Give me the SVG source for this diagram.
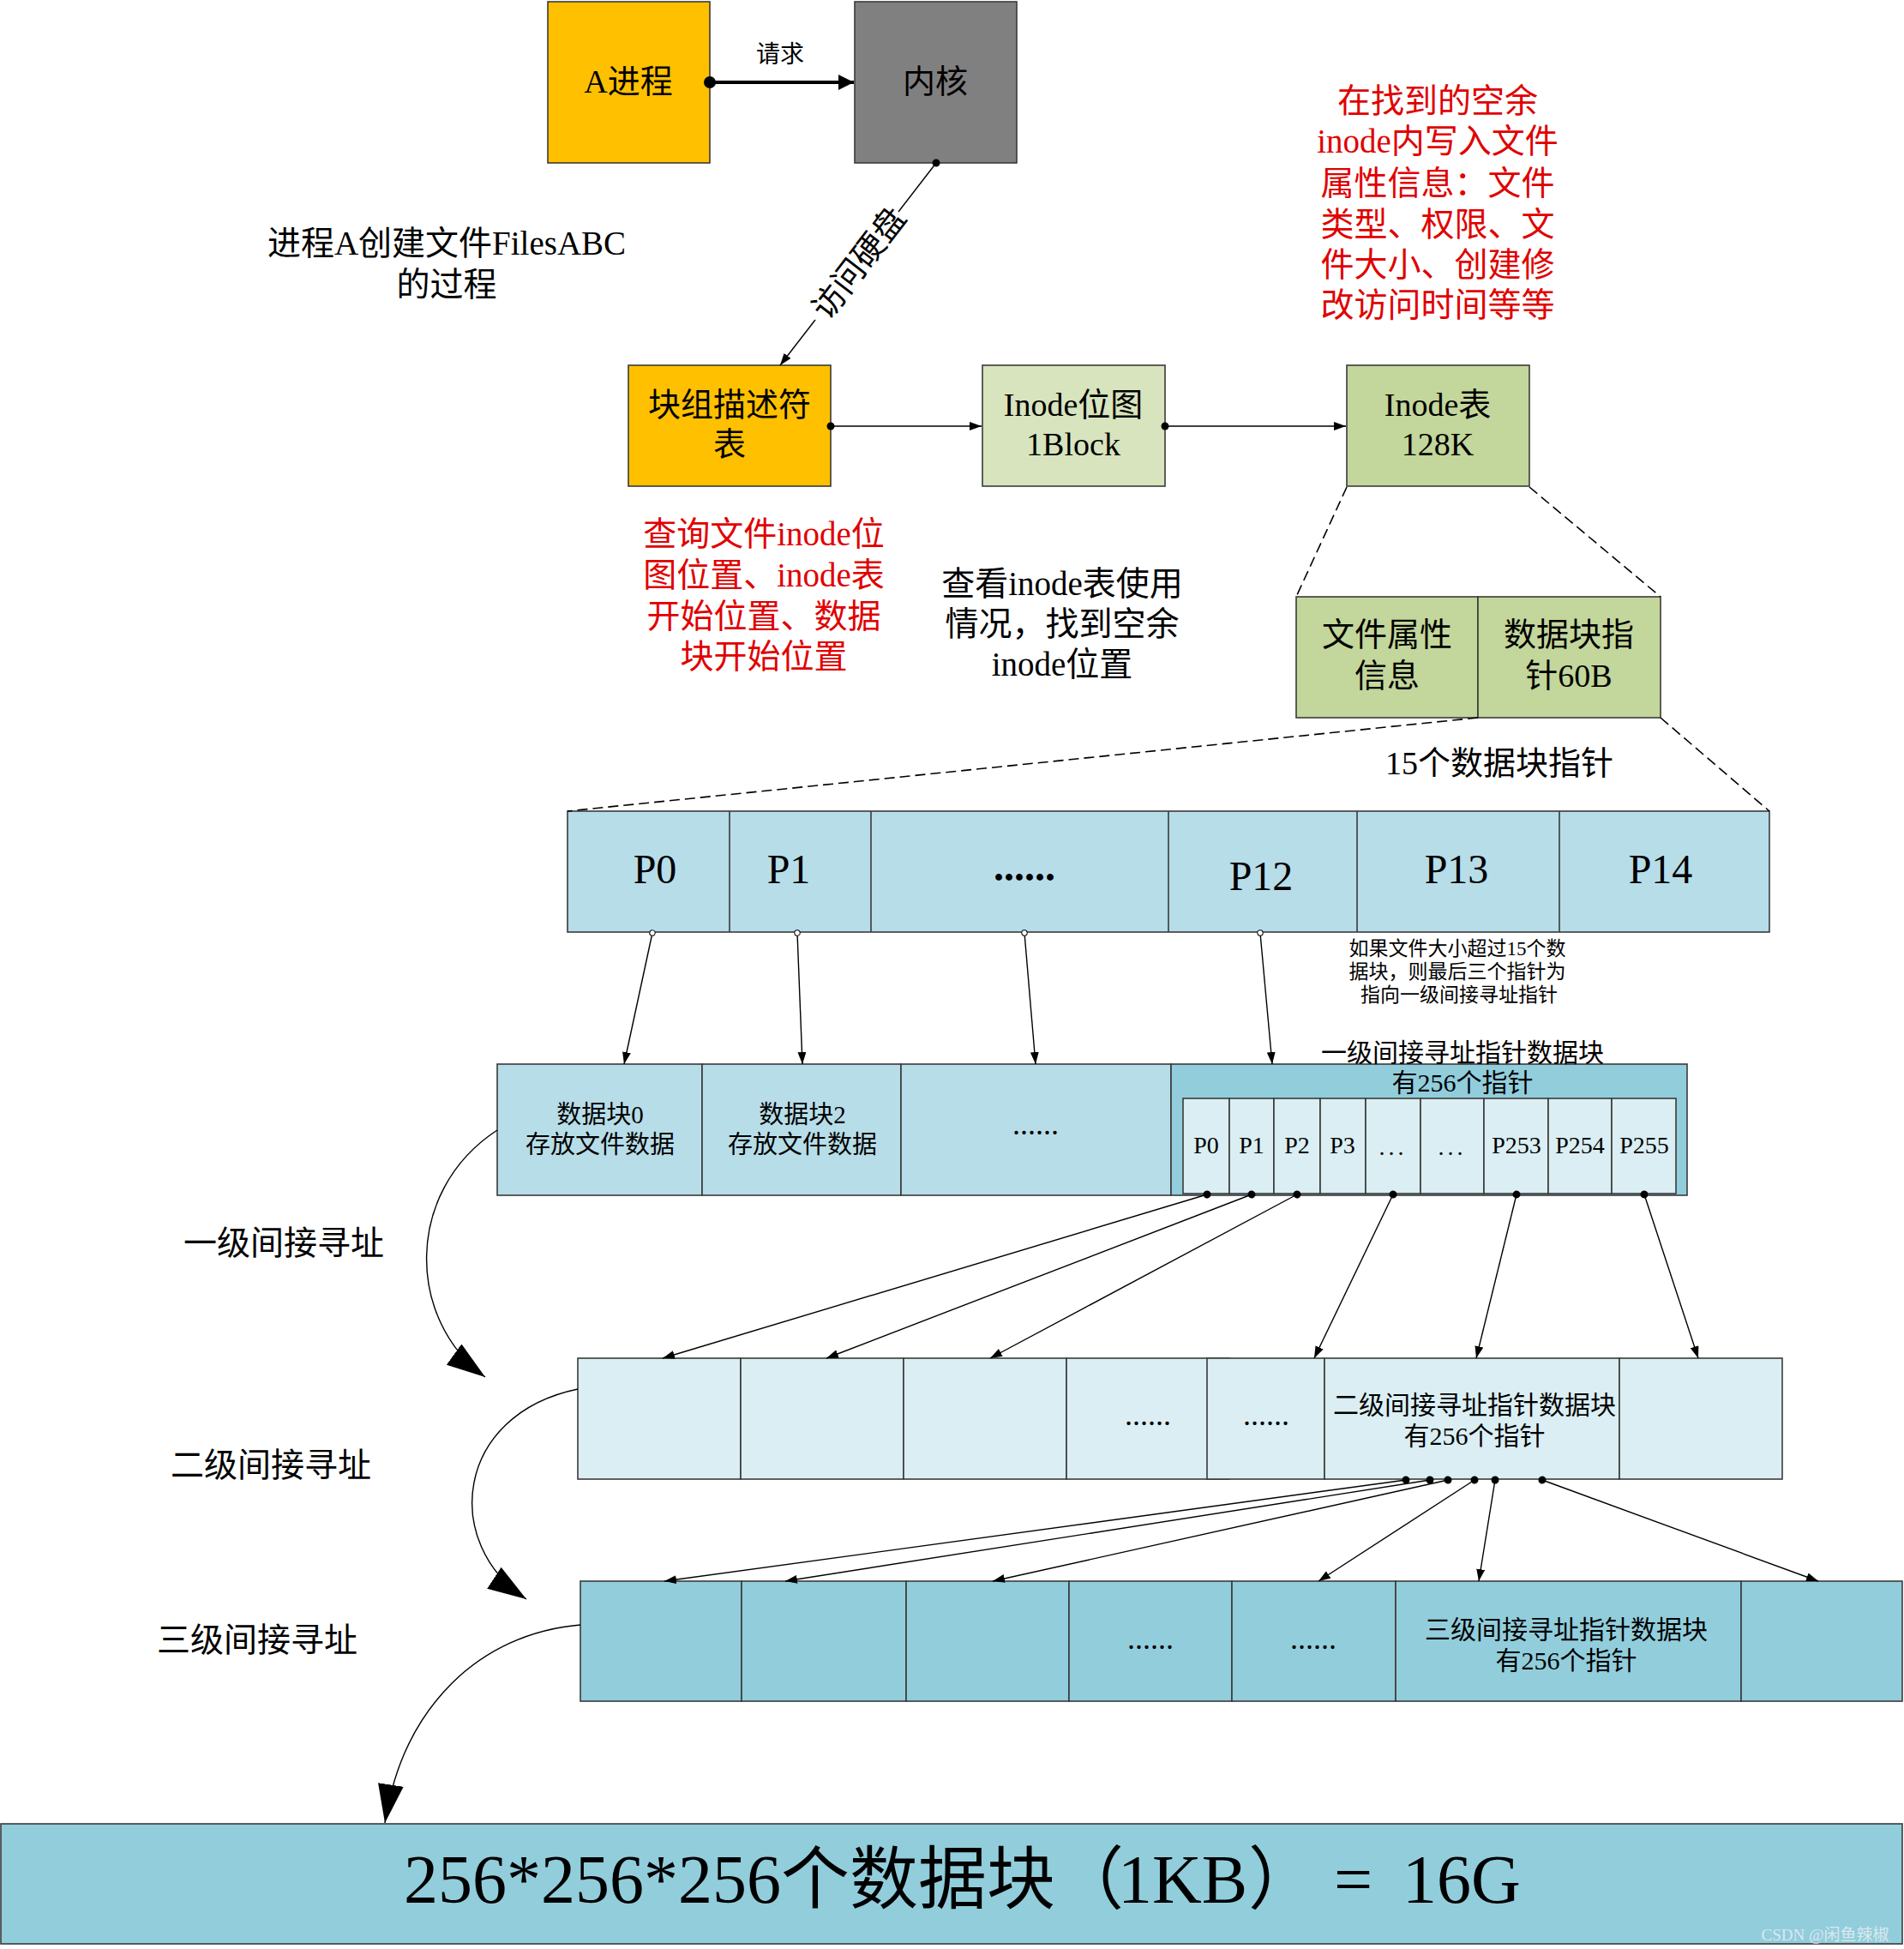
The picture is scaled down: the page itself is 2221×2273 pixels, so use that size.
<svg xmlns="http://www.w3.org/2000/svg" width="2221" height="2273" viewBox="0 0 2221 2273">
<style>
.t{font-family:"Liberation Serif","Noto Sans CJK SC",serif;fill:#000;text-anchor:middle;dominant-baseline:central}
.red{fill:#E00000}
.b{stroke:#3a3a3a;stroke-width:1.6}
.c{fill:none;stroke:#000;stroke-width:1.4}
.d{fill:none;stroke:#000;stroke-width:1.6;stroke-dasharray:12 6}
.y{fill:#FFC000}.g{fill:#808080}.lg{fill:#D7E4BD}.mg{fill:#C3D69B}
.b1{fill:#B7DDE8}.b2{fill:#92CDDC}.b3{fill:#DAEEF3}
</style>
<defs>
<marker id="arrL" viewBox="0 0 18 18" markerWidth="18" markerHeight="18" refX="18" refY="9" orient="auto" markerUnits="userSpaceOnUse"><path d="M0,0 L18,9 L0,18 z" fill="#000"/></marker>
<marker id="dotL" viewBox="-8 -8 16 16" markerWidth="16" markerHeight="16" refX="0" refY="0" orient="auto" markerUnits="userSpaceOnUse"><circle r="7" fill="#000"/></marker>
<marker id="arrS" viewBox="0 0 14 10" markerWidth="14" markerHeight="10" refX="14" refY="5" orient="auto" markerUnits="userSpaceOnUse"><path d="M0,0 L14,5 L0,10 z" fill="#000"/></marker>
<marker id="dotS" viewBox="-5 -5 10 10" markerWidth="10" markerHeight="10" refX="0" refY="0" orient="auto" markerUnits="userSpaceOnUse"><circle r="4.5" fill="#000"/></marker>
<marker id="ring" viewBox="-5 -5 10 10" markerWidth="10" markerHeight="10" refX="0" refY="0" orient="auto" markerUnits="userSpaceOnUse"><circle r="3.2" fill="#fff" stroke="#000" stroke-width="1"/></marker>
<marker id="arrB" viewBox="0 0 45 30" markerWidth="45" markerHeight="30" refX="45" refY="15" orient="auto" markerUnits="userSpaceOnUse"><path d="M0,0 L45,15 L0,30 z" fill="#000"/></marker>
</defs>
<rect width="2221" height="2273" fill="#fff"/>

<g id="node-a-process"><rect class="b y" x="639" y="2" width="189" height="188"/><text class="t" x="733" y="95" font-size="38">A进程</text></g>
<g id="node-kernel"><rect class="b g" x="997" y="2" width="189" height="188"/><text class="t" x="1091" y="95" font-size="38">内核</text></g>
<g id="title"><text class="t" x="521" y="283" font-size="39">进程A创建文件FilesABC</text><text class="t" x="521" y="331" font-size="39">的过程</text></g>

<g id="node-bgdt"><rect class="b y" x="733" y="426" width="236" height="141"/><text class="t" x="851" y="472" font-size="38">块组描述符</text><text class="t" x="851" y="518" font-size="38">表</text></g>
<g id="node-inode-bitmap"><rect class="b lg" x="1146" y="426" width="213" height="141"/><text class="t" x="1252" y="472" font-size="38">Inode位图</text><text class="t" x="1252" y="518" font-size="38">1Block</text></g>
<g id="node-inode-table"><rect class="b mg" x="1571" y="426" width="213" height="141"/><text class="t" x="1677" y="472" font-size="38">Inode表</text><text class="t" x="1677" y="518" font-size="38">128K</text></g>

<g id="note-write"><text class="t red" x="1677" y="117" font-size="39">在找到的空余</text><text class="t red" x="1677" y="164" font-size="39">inode内写入文件</text><text class="t red" x="1677" y="213" font-size="39">属性信息：文件</text><text class="t red" x="1677" y="261" font-size="39">类型、权限、文</text><text class="t red" x="1677" y="308" font-size="39">件大小、创建修</text><text class="t red" x="1677" y="355" font-size="39">改访问时间等等</text></g>
<g id="note-query"><text class="t red" x="891" y="622" font-size="39">查询文件inode位</text><text class="t red" x="891" y="670" font-size="39">图位置、inode表</text><text class="t red" x="891" y="718" font-size="39">开始位置、数据</text><text class="t red" x="891" y="765" font-size="39">块开始位置</text></g>
<g id="note-check"><text class="t" x="1239" y="680" font-size="39">查看inode表使用</text><text class="t" x="1239" y="727" font-size="39">情况，找到空余</text><text class="t" x="1239" y="774" font-size="39">inode位置</text></g>

<g id="node-inode"><rect class="b mg" x="1512" y="696" width="212" height="141"/><rect class="b mg" x="1724" y="696" width="213" height="141"/><text class="t" x="1618" y="740" font-size="38">文件属性</text><text class="t" x="1618" y="788" font-size="38">信息</text><text class="t" x="1830" y="740" font-size="38">数据块指</text><text class="t" x="1830" y="788" font-size="38">针60B</text></g>
<g id="label-15"><text class="t" x="1749" y="890" font-size="38">15个数据块指针</text></g>

<g id="node-pointers"><rect class="b b1" x="662" y="946" width="1402" height="141"/>
<line class="b" x1="851" y1="946" x2="851" y2="1087"/><line class="b" x1="1016" y1="946" x2="1016" y2="1087"/><line class="b" x1="1363" y1="946" x2="1363" y2="1087"/><line class="b" x1="1583" y1="946" x2="1583" y2="1087"/><line class="b" x1="1819" y1="946" x2="1819" y2="1087"/>
<text class="t" x="764" y="1013" font-size="48">P0</text><text class="t" x="920" y="1013" font-size="48">P1</text><text class="t" x="1195" y="1010" font-size="48" font-weight="bold">......</text><text class="t" x="1471" y="1021" font-size="48">P12</text><text class="t" x="1699" y="1013" font-size="48">P13</text><text class="t" x="1937" y="1013" font-size="48">P14</text></g>
<g id="note-indirect"><text class="t" x="1700" y="1106" font-size="23">如果文件大小超过15个数</text><text class="t" x="1700" y="1133" font-size="23">据块，则最后三个指针为</text><text class="t" x="1702" y="1160" font-size="23">指向一级间接寻址指针</text></g>

<g id="node-data-blocks"><rect class="b b1" x="580" y="1241" width="239" height="153"/><rect class="b b1" x="819" y="1241" width="232" height="153"/><rect class="b b1" x="1051" y="1241" width="315" height="153"/>
<text class="t" x="700" y="1300" font-size="29">数据块0</text><text class="t" x="700" y="1335" font-size="29">存放文件数据</text><text class="t" x="936" y="1300" font-size="29">数据块2</text><text class="t" x="936" y="1335" font-size="29">存放文件数据</text><text class="t" x="1208" y="1311" font-size="36">......</text></g>
<g id="node-l1-block"><rect class="b b2" x="1366" y="1241" width="602" height="153"/>
<text class="t" x="1706" y="1227" font-size="30">一级间接寻址指针数据块</text><text class="t" x="1706" y="1262" font-size="30">有256个指针</text>
<g class="b b3"><rect x="1380" y="1281" width="54" height="111"/><rect x="1434" y="1281" width="52" height="111"/><rect x="1486" y="1281" width="54" height="111"/><rect x="1540" y="1281" width="53" height="111"/><rect x="1593" y="1281" width="64" height="111"/><rect x="1657" y="1281" width="74" height="111"/><rect x="1731" y="1281" width="75" height="111"/><rect x="1806" y="1281" width="74" height="111"/><rect x="1880" y="1281" width="75" height="111"/></g>
<text class="t" x="1407" y="1335" font-size="28">P0</text><text class="t" x="1460" y="1335" font-size="28">P1</text><text class="t" x="1513" y="1335" font-size="28">P2</text><text class="t" x="1566" y="1335" font-size="28">P3</text><text class="t" x="1625" y="1337" font-size="28" letter-spacing="4">...</text><text class="t" x="1694" y="1337" font-size="28" letter-spacing="4">...</text><text class="t" x="1769" y="1335" font-size="28">P253</text><text class="t" x="1843" y="1335" font-size="28">P254</text><text class="t" x="1918" y="1335" font-size="28">P255</text></g>

<g id="label-levels"><text class="t" x="331" y="1449" font-size="39">一级间接寻址</text><text class="t" x="316" y="1708" font-size="39">二级间接寻址</text><text class="t" x="300" y="1912" font-size="39">三级间接寻址</text></g>

<g id="node-l2-row"><g class="b b3"><rect x="674" y="1584" width="190" height="141"/><rect x="864" y="1584" width="190" height="141"/><rect x="1054" y="1584" width="190" height="141"/><rect x="1244" y="1584" width="190" height="141"/><rect x="1408" y="1584" width="137" height="141"/><rect x="1545" y="1584" width="344" height="141"/><rect x="1889" y="1584" width="190" height="141"/></g>
<text class="t" x="1339" y="1650" font-size="36">......</text><text class="t" x="1477" y="1650" font-size="36">......</text><text class="t" x="1720" y="1638" font-size="30">二级间接寻址指针数据块</text><text class="t" x="1720" y="1674" font-size="30">有256个指针</text></g>

<g id="node-l3-row"><g class="b b2"><rect x="677" y="1844" width="188" height="140"/><rect x="865" y="1844" width="192" height="140"/><rect x="1057" y="1844" width="190" height="140"/><rect x="1247" y="1844" width="190" height="140"/><rect x="1437" y="1844" width="191" height="140"/><rect x="1628" y="1844" width="403" height="140"/><rect x="2031" y="1844" width="188" height="140"/></g>
<text class="t" x="1342" y="1911" font-size="36">......</text><text class="t" x="1532" y="1911" font-size="36">......</text><text class="t" x="1827" y="1900" font-size="30">三级间接寻址指针数据块</text><text class="t" x="1827" y="1936" font-size="30">有256个指针</text></g>

<g id="node-total"><rect class="b b2" x="1" y="2127" width="2218" height="140"/>
<text class="t" x="471" y="2192" font-size="80" style="text-anchor:start">256*256*256个数据块（<tspan x="1304">1KB</tspan><tspan x="1456">）</tspan> <tspan x="1556">=</tspan> <tspan x="1636">16G</tspan></text>
<text class="t" x="2129" y="2256" font-size="19" style="fill:#dbe8ee">CSDN @闲鱼辣椒</text></g>

<g id="connectors">
<line x1="828" y1="96" x2="996" y2="96" stroke="#000" stroke-width="4" marker-start="url(#dotL)" marker-end="url(#arrL)"/>
<text class="t" x="910" y="63" font-size="28">请求</text>
<line class="c" x1="1092" y1="190" x2="1048" y2="247" marker-start="url(#dotS)"/>
<line class="c" x1="951" y1="373" x2="910" y2="426" marker-end="url(#arrS)"/>
<text class="t" x="1002" y="307" font-size="38" transform="rotate(-52.4 1002 307)">访问硬盘</text>
<line class="c" x1="969" y1="497" x2="1145" y2="497" marker-start="url(#dotS)" marker-end="url(#arrS)"/>
<line class="c" x1="1359" y1="497" x2="1570" y2="497" marker-start="url(#dotS)" marker-end="url(#arrS)"/>
<line class="d" x1="1571" y1="568" x2="1512" y2="696"/>
<line class="d" x1="1784" y1="568" x2="1937" y2="696"/>
<line class="d" x1="1724" y1="837" x2="662" y2="946"/>
<line class="d" x1="1937" y1="837" x2="2064" y2="946"/>
<line class="c" x1="761" y1="1088" x2="728" y2="1241" marker-start="url(#ring)" marker-end="url(#arrS)"/>
<line class="c" x1="930" y1="1088" x2="936" y2="1241" marker-start="url(#ring)" marker-end="url(#arrS)"/>
<line class="c" x1="1195" y1="1088" x2="1208" y2="1241" marker-start="url(#ring)" marker-end="url(#arrS)"/>
<line class="c" x1="1470" y1="1088" x2="1484" y2="1241" marker-start="url(#ring)" marker-end="url(#arrS)"/>
<line class="c" x1="1408" y1="1393" x2="773" y2="1584" marker-start="url(#dotS)" marker-end="url(#arrS)"/>
<line class="c" x1="1460" y1="1393" x2="964" y2="1584" marker-start="url(#dotS)" marker-end="url(#arrS)"/>
<line class="c" x1="1513" y1="1393" x2="1155" y2="1584" marker-start="url(#dotS)" marker-end="url(#arrS)"/>
<line class="c" x1="1625" y1="1393" x2="1533" y2="1584" marker-start="url(#dotS)" marker-end="url(#arrS)"/>
<line class="c" x1="1769" y1="1393" x2="1722" y2="1584" marker-start="url(#dotS)" marker-end="url(#arrS)"/>
<line class="c" x1="1918" y1="1393" x2="1981" y2="1584" marker-start="url(#dotS)" marker-end="url(#arrS)"/>
<line class="c" x1="1640" y1="1726" x2="775" y2="1844" marker-start="url(#dotS)" marker-end="url(#arrS)"/>
<line class="c" x1="1668" y1="1726" x2="916" y2="1844" marker-start="url(#dotS)" marker-end="url(#arrS)"/>
<line class="c" x1="1689" y1="1726" x2="1158" y2="1844" marker-start="url(#dotS)" marker-end="url(#arrS)"/>
<line class="c" x1="1720" y1="1726" x2="1538" y2="1844" marker-start="url(#dotS)" marker-end="url(#arrS)"/>
<line class="c" x1="1744" y1="1726" x2="1725" y2="1844" marker-start="url(#dotS)" marker-end="url(#arrS)"/>
<line class="c" x1="1799" y1="1726" x2="2121" y2="1844" marker-start="url(#dotS)" marker-end="url(#arrS)"/>
<path class="c" d="M580,1318 C470,1390 475,1540 566,1606" marker-end="url(#arrB)"/>
<path class="c" d="M674,1620 C530,1650 515,1800 614,1865" marker-end="url(#arrB)"/>
<path class="c" d="M677,1895 C560,1905 470,1990 449,2126" marker-end="url(#arrB)"/>
</g>
</svg>
